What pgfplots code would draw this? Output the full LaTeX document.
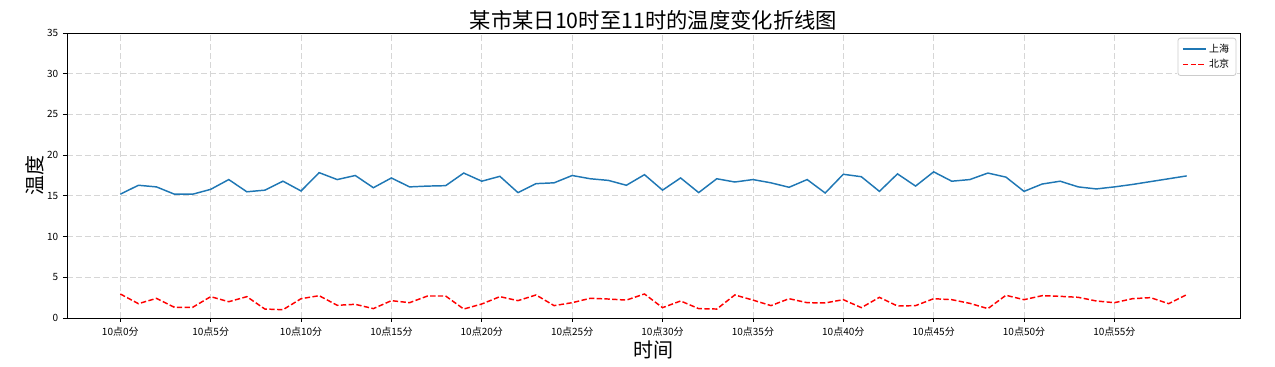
\documentclass[border=0pt]{standalone}
\usepackage{pgfplots}
\pgfplotsset{compat=1.18}
\usepackage{pgfplotstable}
\usepackage{fontspec}
\setmainfont{Noto Sans CJK SC}
\definecolor{mplblue}{HTML}{1F77B4}
\definecolor{gridgray}{HTML}{D6D6D6}
\definecolor{legframe}{HTML}{CCCCCC}
\pgfplotstableread{
x sh bj
0 15.2 2.95
1 16.3 1.76
2 16.1 2.41
3 15.2 1.31
4 15.2 1.31
5 15.8 2.62
6 17.0 2.00
7 15.5 2.62
8 15.7 1.10
9 16.8 1.02
10 15.6 2.37
11 17.85 2.74
12 17.0 1.56
13 17.5 1.68
14 16.0 1.15
15 17.2 2.13
16 16.1 1.88
17 16.2 2.70
18 16.25 2.70
19 17.8 1.10
20 16.8 1.72
21 17.4 2.62
22 15.4 2.13
23 16.5 2.83
24 16.6 1.52
25 17.5 1.88
26 17.1 2.42
27 16.9 2.33
28 16.3 2.20
29 17.6 2.95
30 15.7 1.27
31 17.2 2.09
32 15.4 1.15
33 17.1 1.10
34 16.7 2.83
35 17.0 2.20
36 16.6 1.52
37 16.05 2.37
38 17.0 1.88
39 15.35 1.85
40 17.65 2.25
41 17.35 1.27
42 15.55 2.54
43 17.7 1.47
44 16.2 1.52
45 17.95 2.37
46 16.8 2.25
47 17.0 1.80
48 17.8 1.15
49 17.3 2.79
50 15.55 2.25
51 16.45 2.74
52 16.8 2.66
53 16.1 2.54
54 15.85 2.09
55 16.1 1.88
56 16.4 2.37
57 16.75 2.50
58 17.1 1.76
59 17.45 2.87
}\datatable
\begin{document}
\begin{tikzpicture}
\begin{axis}[
  scale only axis,
  width=879.75pt, height=213.75pt,
  xmin=-2.95, xmax=61.95, ymin=0, ymax=35,
  xtick={0,5,...,55},
  xticklabels={10点0分,10点5分,10点10分,10点15分,10点20分,10点25分,10点30分,10点35分,10点40分,10点45分,10点50分,10点55分},
  ytick={0,5,...,35},
  tick align=outside,
  xtick pos=bottom, ytick pos=left,
  major tick length=3pt,
  tick style={black, line width=0.6pt},
  axis line style={black, line width=0.6pt},
  ticklabel style={font=\fontsize{7.5}{8}\selectfont},
  /pgf/number format/assume math mode=true,
  grid=major,
  major grid style={gridgray, line width=0.6pt, dash pattern=on 4.5pt off 2.2pt},
  title={某市某日10时至11时的温度变化折线图},
  every axis title/.style={at={(axis description cs:0.5,1.0456)}, anchor=center, inner sep=0pt, font=\fontsize{16}{16}\selectfont},
  xlabel={时间},
  every axis x label/.style={at={(axis description cs:0.5,-0.1123)}, anchor=center, inner sep=0pt, font=\fontsize{15}{15}\selectfont},
  ylabel={温度},
  every axis y label/.style={at={(axis description cs:-0.0273,0.5)}, anchor=center, rotate=90, inner sep=0pt, font=\fontsize{15}{15}\selectfont},
  legend style={name=leg, at={(axis description cs:0.9966,0.982)}, anchor=north east, font=\fontsize{7.5}{8}\selectfont},
  legend cell align=left,
]
\addplot[mplblue, line width=1.1pt] table[x=x, y=sh] {\datatable};
\addlegendentry{上海}
\addplot[red, line width=1.1pt, dash pattern=on 4pt off 1.8pt] table[x=x, y=bj] {\datatable};
\addlegendentry{北京}
\end{axis}
\draw[white, line width=1.6pt] (leg.south west) rectangle (leg.north east);
\draw[legframe, line width=0.6pt, rounded corners=2pt] (leg.south west) rectangle (leg.north east);
\path (current axis.south west) ++(-50.25pt,-36.75pt) rectangle ++(956.25pt,275.25pt);
\end{tikzpicture}
\end{document}
